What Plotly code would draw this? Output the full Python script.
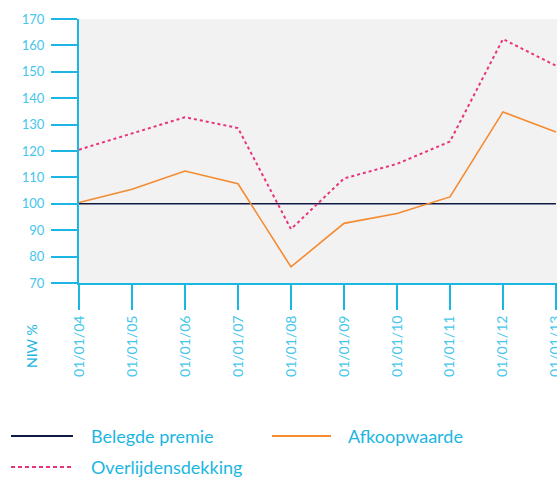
import plotly.graph_objects as go

categories = ["01/01/04", "01/01/05", "01/01/06", "01/01/07", "01/01/08",
              "01/01/09", "01/01/10", "01/01/11", "01/01/12", "01/01/13"]
belegde_premie = [100, 100, 100, 100, 100, 100, 100, 100, 100, 100]
afkoopwaarde = [100.5, 105.5, 112.4, 107.6, 76.1, 92.6, 96.3, 102.6, 134.8, 127.2]
overlijdensdekking = [120.5, 126.6, 132.8, 128.7, 90.4, 109.6, 115.1, 123.6, 162.4, 152.3]
y_ticks = [70, 80, 90, 100, 110, 120, 130, 140, 150, 160, 170]

W, H = 557, 477
ML, MT = 79, 19
PH = 283 - 19
MB = H - MT - PH
MR = 0
PW = W - ML - MR

CYAN = "#1CB6E2"
CYAN_LIGHT = "#45C6EC"
NAVY = "#0E1A44"
ORANGE = "#F58A30"
PINK = "#E8347C"
FONT = "Lato"

xs = list(range(len(categories)))

fig = go.Figure()
fig.add_trace(go.Scatter(x=xs, y=belegde_premie, mode="lines", name="Belegde premie",
                         line=dict(color=NAVY, width=1.6)))
fig.add_trace(go.Scatter(x=xs, y=afkoopwaarde, mode="lines", name="Afkoopwaarde",
                         line=dict(color=ORANGE, width=1.6)))
fig.add_trace(go.Scatter(x=xs, y=overlijdensdekking, mode="lines", name="Overlijdensdekking",
                         line=dict(color=PINK, width=2, dash="3px,3px")))


def px_x(p):
    return (p - ML) / PW


def px_y(p):
    return (MT + PH - p) / PH


legend = [
    ("Belegde premie", NAVY, "solid", 11, 73, 89, 436),
    ("Afkoopwaarde", ORANGE, "solid", 272, 331, 346, 436),
    ("Overlijdensdekking", PINK, "4px,3px", 11, 73, 89, 467),
]
for text, col, dash, x0, x1, tx, yy in legend:
    fig.add_shape(type="line", xref="paper", yref="paper",
                  x0=px_x(x0), x1=px_x(x1), y0=px_y(yy), y1=px_y(yy),
                  line=dict(color=col, width=2, dash=dash))
    fig.add_annotation(xref="paper", yref="paper", x=px_x(tx), y=px_y(yy),
                       text=text, showarrow=False, xanchor="left", yanchor="middle",
                       font=dict(family=FONT, size=18, color=CYAN))

fig.add_annotation(xref="paper", yref="paper", x=px_x(31), y=px_y(346),
                   text="NIW %", showarrow=False, textangle=-90,
                   xanchor="center", yanchor="middle",
                   font=dict(family=FONT, size=14, color=CYAN))

fig.update_layout(
    width=W, height=H,
    margin=dict(l=ML, r=MR, t=MT, b=MB, autoexpand=False),
    paper_bgcolor="white",
    plot_bgcolor="#F2F2F2",
    showlegend=False,
    xaxis=dict(range=[0, 9.02], tickmode="array", tickvals=xs, ticktext=categories,
               tickangle=-90, ticks="outside", ticklen=25, tickwidth=2, tickcolor=CYAN,
               ticklabeloverflow="allow", automargin=False,
               showline=True, linecolor=CYAN, linewidth=2, showgrid=False, zeroline=False,
               tickfont=dict(family=FONT, size=14, color=CYAN_LIGHT)),
    yaxis=dict(range=[70, 170], tickmode="array", tickvals=y_ticks,
               ticks="outside", ticklen=26, tickwidth=2, tickcolor=CYAN,
               ticklabelstandoff=4, automargin=False,
               showline=True, linecolor=CYAN, linewidth=2, showgrid=False, zeroline=False,
               tickfont=dict(family=FONT, size=13, color=CYAN_LIGHT)),
)

fig.write_html(
    "out.html",
    config={"displayModeBar": False},
    post_script="document.body.style.margin='0';document.body.style.overflow='hidden';",
)
